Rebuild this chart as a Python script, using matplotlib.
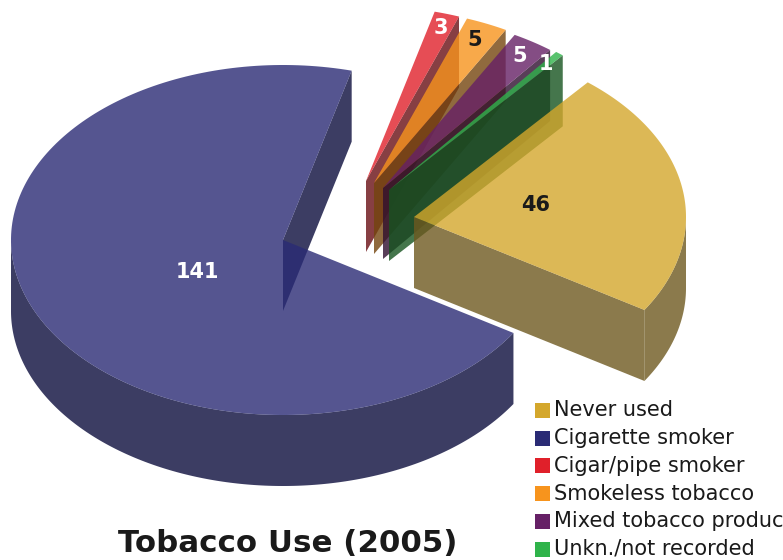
import numpy as np
import matplotlib
matplotlib.use('Agg')
import matplotlib.pyplot as plt
from matplotlib.patches import Polygon, Rectangle

# values, same order as the legend
categories = ['Never used', 'Cigarette smoker', 'Cigar/pipe smoker',
              'Smokeless tobacco', 'Mixed tobacco products', 'Unkn./not recorded']
values = [46, 141, 3, 5, 5, 1]
colors = ['#D4A72C', '#2A2B75', '#E0202A', '#F7941D', '#662066', '#2FB34A']
side_colors = ['#6E591F', '#0B0C3C', '#690F14', '#74450E', '#300F30', '#16541F']
label_colors = ['#1a1a1a', 'white', 'white', '#1a1a1a', 'white', 'white']

# layout in pixels
centres = [(414, 217), (283, 240), (366, 181), (374, 183), (383, 188), (389, 190)]
label_pos = [(536, 205), (197, 272), (441, 28), (475, 40), (520, 56), (546, 64)]
rx, ry, depth = 272, 175, 71
start_angle = 50.3
alpha = 0.8

fig = plt.figure(figsize=(7.83, 5.6), dpi=100)
ax = fig.add_axes([0, 0, 1, 1])
ax.set_xlim(0, 783)
ax.set_ylim(560, 0)
ax.axis('off')


def rim(c, a, b, dy=0):
    t = np.radians(np.linspace(a, b, 200))
    return np.column_stack([c[0] + rx * np.cos(t), c[1] - ry * np.sin(t) + dy])


# angles go clockwise from the start
sweep = np.array(values) / sum(values) * 360
ends = start_angle - np.cumsum(sweep)
starts = ends + sweep

# blue first, then the thin ones, the yellow one on top
for i in [1, 2, 3, 4, 5, 0]:
    c = centres[i]
    a, b = starts[i], ends[i]

    # straight wall on the clockwise end of the slice
    t = np.radians(b)
    p = (c[0] + rx * np.cos(t), c[1] - ry * np.sin(t))
    ax.add_patch(Polygon([c, p, (p[0], p[1] + depth), (c[0], c[1] + depth)],
                         closed=True, fc=side_colors[i], ec='none', alpha=alpha))

    # outer wall, only the lower half of the rim faces the viewer
    lo, hi = max(b, -180), min(a, 0)
    if hi > lo:
        front = rim(c, lo, hi)
        back = rim(c, hi, lo, depth)
        ax.add_patch(Polygon(np.vstack([front, back]), closed=True,
                             fc=side_colors[i], ec='none', alpha=alpha))

    # top face
    top = np.vstack([[c], rim(c, a, b)])
    ax.add_patch(Polygon(top, closed=True, fc=colors[i], ec='none', alpha=alpha))

for v, pos, col in zip(values, label_pos, label_colors):
    ax.text(pos[0], pos[1], str(v), color=col, fontsize=15, fontweight='bold',
            ha='center', va='center', family='DejaVu Sans')

# legend
for i, name in enumerate(categories):
    y = 410.5 + i * 27.7
    ax.add_patch(Rectangle((535, y - 7.5), 15, 15, fc=colors[i], ec='none'))
    ax.text(554, y, name, fontsize=15, color='#1a1a1a', va='center', ha='left',
            family='DejaVu Sans')

ax.text(287.5, 544, 'Tobacco Use (2005)', fontsize=22.2, fontweight='bold',
        color='#1a1a1a', ha='center', va='center', family='DejaVu Sans')

fig.savefig('out.png', dpi=100)
